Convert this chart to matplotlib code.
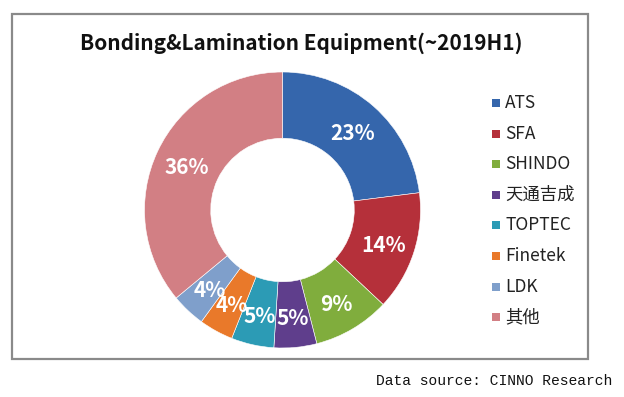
import matplotlib
matplotlib.use('Agg')
import matplotlib.pyplot as plt
from matplotlib.patches import Rectangle
import numpy as np

plt.rcParams['font.family'] = ['Noto Sans CJK SC', 'DejaVu Sans']

# dados do gráfico
empresas = ['ATS', 'SFA', 'SHINDO', '天通吉成', 'TOPTEC', 'Finetek', 'LDK', '其他']
percentuais = [23, 14, 9, 5, 5, 4, 4, 36]
cores = ['#3566ac', '#b5303a', '#80ad3d', '#5f3e8c', '#2c9bb5', '#e9792a', '#7f9fcb', '#d27f84']
titulo = 'Bonding&Lamination Equipment(~2019H1)'
fonte = 'Data source: CINNO Research'

W, H = 624, 397
fig = plt.figure(figsize=(W / 100, H / 100), dpi=100)

# moldura cinza em volta do gráfico
fig.patches.append(Rectangle((12 / W, 1 - 359 / H), 576 / W, 345 / H,
                             transform=fig.transFigure, fill=False,
                             edgecolor='#8a8a8a', linewidth=1.6))

# rosca centrada em (282.5, 210) px, raio 138 px
cx, cy, r = 282.5, 210, 138
ax = fig.add_axes([(cx - r) / W, 1 - (cy + r) / H, 2 * r / W, 2 * r / H])
wedges, textos = ax.pie(percentuais, colors=cores, startangle=90, counterclock=False,
                        radius=1, wedgeprops=dict(width=0.48, edgecolor='white', linewidth=0.4))
ax.set_xlim(-1, 1)
ax.set_ylim(-1, 1)
ax.set_aspect('equal')
ax.axis('off')

# rótulos de porcentagem no meio do anel
for w, p in zip(wedges, percentuais):
    ang = np.deg2rad((w.theta1 + w.theta2) / 2)
    rr = 0.77
    ax.text(rr * np.cos(ang), rr * np.sin(ang) - 0.02, f'{p}%', color='white',
            fontsize=15, fontweight='bold', ha='center', va='center')

fig.text(301 / W, 1 - 43 / H, titulo, fontsize=15, fontweight='bold',
         ha='center', va='center', color='#111111')

# legenda manual
y0, dy = 103, 30.6
for i, (nome, cor) in enumerate(zip(empresas, cores)):
    y = y0 + i * dy
    fig.patches.append(Rectangle((492 / W, 1 - (y + 4) / H), 8 / W, 8 / H,
                                 transform=fig.transFigure, facecolor=cor, edgecolor='none'))
    fig.text(505 / W, 1 - y / H, nome, fontsize=12.5, ha='left', va='center', color='#222222')

fig.text(376 / W, 1 - 381 / H, fonte, fontsize=10.5, family='Liberation Mono',
         ha='left', va='center', color='#111111')

fig.savefig('out.png', dpi=100, facecolor='white')
